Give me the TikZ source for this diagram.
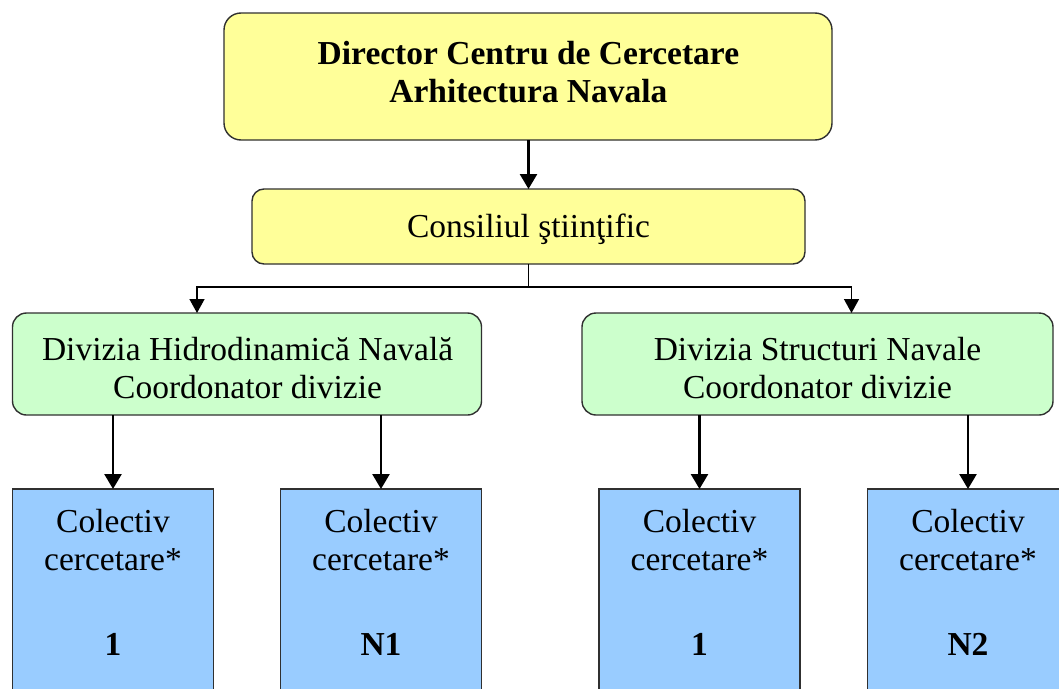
\documentclass[tikz,border=0pt]{standalone}
\usepackage{fontspec}
\setmainfont{Liberation Serif}
\usetikzlibrary{arrows.meta}
\definecolor{yel}{HTML}{FFFF99}
\definecolor{grn}{HTML}{CCFFCC}
\definecolor{blu}{HTML}{99CCFF}
\definecolor{edgec}{HTML}{303030}
\begin{document}
\begin{tikzpicture}[x=1pt,y=-1pt,
  shapebox/.style={draw=edgec, line width=1.4pt, inner sep=0pt, outer sep=0pt},
  yelbox/.style={shapebox, fill=yel},
  grnbox/.style={shapebox, fill=grn, rounded corners=14pt, minimum height=102pt},
  blubox/.style={shapebox, fill=blu, minimum width=201pt, minimum height=211pt},
  lbl/.style={font=\fontsize{33.5}{38}\selectfont, align=center, inner sep=0pt},
  bigarr/.style={draw=black, line width=2.6pt, -{Triangle[width=17pt,length=15pt]}},
  smallarr/.style={draw=black, line width=1.5pt, -{Triangle[width=15pt,length=14pt]}},
  thinline/.style={draw=black, line width=1.5pt}
]
\useasboundingbox (0,0) rectangle (1059,688);

% boxes
\node[yelbox, rounded corners=17pt, minimum width=608pt, minimum height=127pt] (dir) at (528,76.5) {};
\node[yelbox, rounded corners=12pt, minimum width=553pt, minimum height=75pt] (cons) at (528.5,226.5) {};
\node[grnbox, minimum width=469pt] (hid) at (247,364) {};
\node[grnbox, minimum width=471pt] (str) at (817.5,364) {};
\node[blubox] (c1) at (113,594.5) {};
\node[blubox] (c2) at (381,594.5) {};
\node[blubox] (c3) at (699.5,594.5) {};
\node[blubox] (c4) at (968,594.5) {};

% texts
\node[lbl, font=\fontsize{33.5}{38}\selectfont\bfseries] (dirT) at (528.4,72) {Director Centru de Cercetare\\Arhitectura Navala};
\node[lbl] (consT) at (528.5,229.5) {Consiliul ştiinţific};
\node[lbl] (hidT) at (247.6,368.5) {Divizia Hidrodinamică Navală\\Coordonator divizie};
\node[lbl] (strT) at (817.5,368.5) {Divizia Structuri Navale\\Coordonator divizie};
\node[lbl] (c1T) at (113,582) {Colectiv\\cercetare*\\[47pt]\textbf{1}};
\node[lbl] (c2T) at (381,582) {Colectiv\\cercetare*\\[47pt]\textbf{N1}};
\node[lbl] (c3T) at (699.5,582) {Colectiv\\cercetare*\\[47pt]\textbf{1}};
\node[lbl] (c4T) at (968,582) {Colectiv\\cercetare*\\[47pt]\textbf{N2}};

% connectors
\coordinate (j) at (528.5,287);
\coordinate (bl) at (197,287);
\coordinate (br) at (851.5,287);
\draw[bigarr] (dir.south -| cons.north) -- (cons.north);
\draw[thinline] (cons.south) -- (j);
\draw[smallarr] (j) -- (bl) -- (bl |- hid.north);
\draw[smallarr] (j) -- (br) -- (br |- str.north);
\draw[bigarr] (hid.south -| c1.north) -- (c1.north);
\draw[bigarr] (hid.south -| c2.north) -- (c2.north);
\draw[bigarr] (str.south -| c3.north) -- (c3.north);
\draw[bigarr] (str.south -| c4.north) -- (c4.north);
\end{tikzpicture}
\end{document}
